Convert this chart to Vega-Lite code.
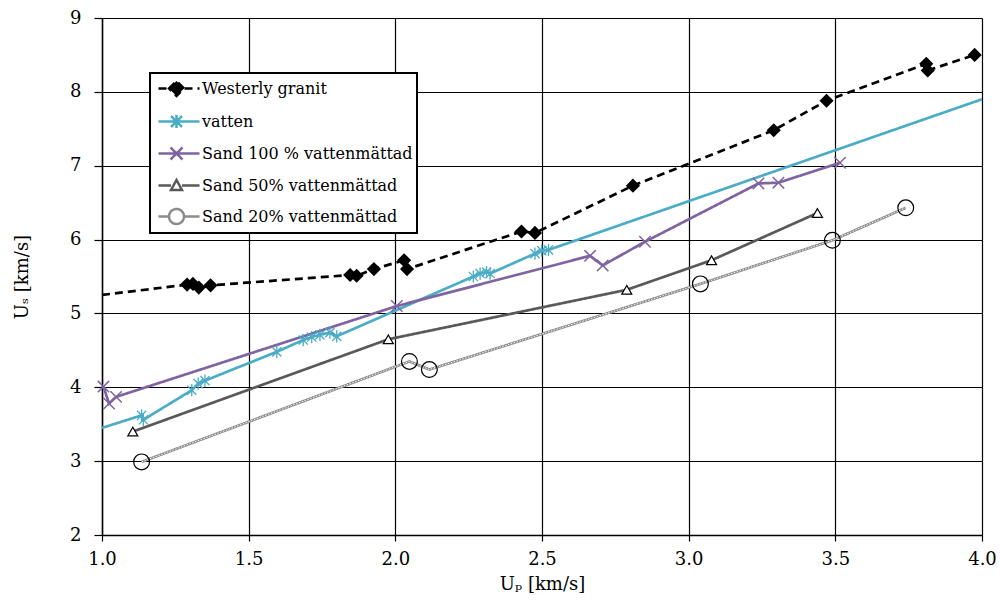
{
  "$schema": "https://vega.github.io/schema/vega-lite/v6.json",
  "width": 880,
  "height": 517,
  "autosize": {"type": "none"},
  "padding": {"left": 102, "top": 18, "right": 18, "bottom": 72},
  "background": "white",
  "config": {
    "font": "DejaVu Serif",
    "view": {"stroke": null},
    "axis": {
      "labelFont": "DejaVu Serif",
      "labelFontSize": 18,
      "labelColor": "black",
      "titleFont": "DejaVu Serif",
      "titleFontSize": 18,
      "titleFontWeight": "normal",
      "titleColor": "black",
      "gridColor": "black",
      "gridWidth": 1.2,
      "gridOpacity": 1,
      "domainColor": "black",
      "domainWidth": 1.5,
      "tickColor": "black",
      "tickWidth": 1.2
    }
  },
  "data": {
    "values": [
      {"s": "Westerly granit", "i": 0, "x": 1.0, "y": 5.25, "m": 0},
      {"s": "Westerly granit", "i": 1, "x": 1.29, "y": 5.39, "m": 1},
      {"s": "Westerly granit", "i": 2, "x": 1.31, "y": 5.40, "m": 1},
      {"s": "Westerly granit", "i": 3, "x": 1.33, "y": 5.35, "m": 1},
      {"s": "Westerly granit", "i": 4, "x": 1.37, "y": 5.38, "m": 1},
      {"s": "Westerly granit", "i": 5, "x": 1.846, "y": 5.52, "m": 1},
      {"s": "Westerly granit", "i": 6, "x": 1.868, "y": 5.51, "m": 1},
      {"s": "Westerly granit", "i": 7, "x": 1.927, "y": 5.60, "m": 1},
      {"s": "Westerly granit", "i": 8, "x": 2.03, "y": 5.72, "m": 1},
      {"s": "Westerly granit", "i": 9, "x": 2.04, "y": 5.60, "m": 1},
      {"s": "Westerly granit", "i": 10, "x": 2.43, "y": 6.11, "m": 1},
      {"s": "Westerly granit", "i": 11, "x": 2.476, "y": 6.09, "m": 1},
      {"s": "Westerly granit", "i": 12, "x": 2.81, "y": 6.73, "m": 1},
      {"s": "Westerly granit", "i": 13, "x": 3.29, "y": 7.48, "m": 1},
      {"s": "Westerly granit", "i": 14, "x": 3.47, "y": 7.88, "m": 1},
      {"s": "Westerly granit", "i": 15, "x": 3.81, "y": 8.38, "m": 1},
      {"s": "Westerly granit", "i": 16, "x": 3.815, "y": 8.29, "m": 1},
      {"s": "Westerly granit", "i": 17, "x": 3.975, "y": 8.50, "m": 1},
      {"s": "vatten", "i": 0, "x": 1.0, "y": 3.45, "m": 0},
      {"s": "vatten", "i": 1, "x": 1.135, "y": 3.62, "m": 1},
      {"s": "vatten", "i": 2, "x": 1.141, "y": 3.56, "m": 1},
      {"s": "vatten", "i": 3, "x": 1.306, "y": 3.96, "m": 1},
      {"s": "vatten", "i": 4, "x": 1.328, "y": 4.05, "m": 1},
      {"s": "vatten", "i": 5, "x": 1.351, "y": 4.09, "m": 1},
      {"s": "vatten", "i": 6, "x": 1.596, "y": 4.48, "m": 1},
      {"s": "vatten", "i": 7, "x": 1.686, "y": 4.64, "m": 1},
      {"s": "vatten", "i": 8, "x": 1.715, "y": 4.68, "m": 1},
      {"s": "vatten", "i": 9, "x": 1.743, "y": 4.71, "m": 1},
      {"s": "vatten", "i": 10, "x": 1.777, "y": 4.74, "m": 1},
      {"s": "vatten", "i": 11, "x": 1.80, "y": 4.69, "m": 1},
      {"s": "vatten", "i": 12, "x": 2.266, "y": 5.50, "m": 1},
      {"s": "vatten", "i": 13, "x": 2.289, "y": 5.54, "m": 1},
      {"s": "vatten", "i": 14, "x": 2.311, "y": 5.56, "m": 1},
      {"s": "vatten", "i": 15, "x": 2.323, "y": 5.54, "m": 1},
      {"s": "vatten", "i": 16, "x": 2.476, "y": 5.81, "m": 1},
      {"s": "vatten", "i": 17, "x": 2.499, "y": 5.85, "m": 1},
      {"s": "vatten", "i": 18, "x": 2.522, "y": 5.86, "m": 1},
      {"s": "vatten", "i": 19, "x": 4.0, "y": 7.90, "m": 0},
      {"s": "Sand 100 % vattenmättad", "i": 0, "x": 1.005, "y": 4.01, "m": 1},
      {"s": "Sand 100 % vattenmättad", "i": 1, "x": 1.024, "y": 3.78, "m": 1},
      {"s": "Sand 100 % vattenmättad", "i": 2, "x": 1.048, "y": 3.87, "m": 1},
      {"s": "Sand 100 % vattenmättad", "i": 3, "x": 2.005, "y": 5.10, "m": 1},
      {"s": "Sand 100 % vattenmättad", "i": 4, "x": 2.664, "y": 5.78, "m": 1},
      {"s": "Sand 100 % vattenmättad", "i": 5, "x": 2.707, "y": 5.65, "m": 1},
      {"s": "Sand 100 % vattenmättad", "i": 6, "x": 2.851, "y": 5.97, "m": 1},
      {"s": "Sand 100 % vattenmättad", "i": 7, "x": 3.238, "y": 6.76, "m": 1},
      {"s": "Sand 100 % vattenmättad", "i": 8, "x": 3.306, "y": 6.77, "m": 1},
      {"s": "Sand 100 % vattenmättad", "i": 9, "x": 3.516, "y": 7.04, "m": 1},
      {"s": "Sand 50% vattenmättad", "i": 0, "x": 1.105, "y": 3.40, "m": 1},
      {"s": "Sand 50% vattenmättad", "i": 1, "x": 1.976, "y": 4.65, "m": 1},
      {"s": "Sand 50% vattenmättad", "i": 2, "x": 2.789, "y": 5.32, "m": 1},
      {"s": "Sand 50% vattenmättad", "i": 3, "x": 3.078, "y": 5.72, "m": 1},
      {"s": "Sand 50% vattenmättad", "i": 4, "x": 3.439, "y": 6.36, "m": 1},
      {"s": "Sand 20% vattenmättad", "i": 0, "x": 1.135, "y": 2.99, "m": 1},
      {"s": "Sand 20% vattenmättad", "i": 1, "x": 2.048, "y": 4.35, "m": 1},
      {"s": "Sand 20% vattenmättad", "i": 2, "x": 2.116, "y": 4.24, "m": 1},
      {"s": "Sand 20% vattenmättad", "i": 3, "x": 3.04, "y": 5.40, "m": 1},
      {"s": "Sand 20% vattenmättad", "i": 4, "x": 3.49, "y": 5.99, "m": 1},
      {"s": "Sand 20% vattenmättad", "i": 5, "x": 3.74, "y": 6.43, "m": 1}
    ]
  },
  "encoding": {
    "x": {
      "field": "x", "type": "quantitative",
      "scale": {"domain": [1, 4], "nice": false, "zero": false},
      "axis": {
        "title": "Uₚ [km/s]",
        "values": [1, 1.5, 2, 2.5, 3, 3.5, 4],
        "format": ".1f",
        "tickSize": 6,
        "labelPadding": 9,
        "titlePadding": 7,
        "labelFlush": false
      }
    },
    "y": {
      "field": "y", "type": "quantitative",
      "scale": {"domain": [2, 9], "nice": false, "zero": false},
      "axis": {
        "title": "Uₛ [km/s]",
        "values": [2, 3, 4, 5, 6, 7, 8, 9],
        "tickSize": 8,
        "labelPadding": 13,
        "titlePadding": 38
      }
    }
  },
  "layer": [
    {
      "mark": {"type": "line", "strokeWidth": 2.7},
      "encoding": {
        "order": {"field": "i", "type": "quantitative"},
        "color": {
          "field": "s", "type": "nominal",
          "scale": {
            "domain": ["Westerly granit", "vatten", "Sand 100 % vattenmättad", "Sand 50% vattenmättad", "Sand 20% vattenmättad"],
            "range": ["black", "#4bacc6", "#8064a2", "#595959", "#8c8c8c"]
          },
          "legend": {
            "title": null,
            "orient": "none",
            "legendX": 48,
            "legendY": 55,
            "strokeColor": "black",
            "fillColor": "white",
            "padding": 4,
            "rowPadding": 9,
            "symbolSize": 400,
            "symbolOffset": 11,
            "symbolStrokeWidth": 2.5,
            "labelOffset": 14,
            "labelFont": "DejaVu Serif",
            "labelFontSize": 16,
            "labelColor": "black",
            "labelLimit": 400,
            "encode": {
              "legend": {"update": {"strokeWidth": {"value": 2}}},
              "symbols": {
                "update": {
                  "shape": {"signal": "datum.value === 'Westerly granit' ? 'M-1.8,0H2.3M-0.75,0L0,-0.75L0.75,0L0,0.75Z' : datum.value === 'vatten' ? 'M-1.8,0H2.3M-0.55,-0.55L0.55,0.55M-0.55,0.55L0.55,-0.55M0,-0.65V0.65' : datum.value === 'Sand 100 % vattenmättad' ? 'M-1.8,0H2.3M-0.6,-0.6L0.6,0.6M-0.6,0.6L0.6,-0.6' : datum.value === 'Sand 50% vattenmättad' ? 'M-1.8,0H-0.55M0.55,0H2.3M-0.55,0.45L0,-0.55L0.55,0.45Z' : 'M-1.8,0H-0.75M0.75,0H2.3M-0.75,0A0.75,0.75,0,1,0,0.75,0A0.75,0.75,0,1,0,-0.75,0'"},
                  "fill": {"signal": "datum.value === 'Westerly granit' ? 'black' : 'transparent'"},
                  "strokeDash": {"signal": "datum.value === 'Westerly granit' ? [6, 4] : []"}
                }
              }
            }
          }
        },
        "strokeDash": {
          "field": "s", "type": "nominal",
          "scale": {
            "domain": ["Westerly granit", "vatten", "Sand 100 % vattenmättad", "Sand 50% vattenmättad", "Sand 20% vattenmättad"],
            "range": [[8, 5], [1, 0], [1, 0], [1, 0], [1, 0]]
          },
          "legend": null
        }
      }
    },
    {
      "transform": [{"filter": "datum.s === 'Sand 20% vattenmättad'"}],
      "mark": {"type": "line", "strokeWidth": 1, "color": "white", "strokeDash": [1.5, 1.5]},
      "encoding": {"order": {"field": "i", "type": "quantitative"}}
    },
    {
      "transform": [{"filter": "datum.s === 'Westerly granit' && datum.m == 1"}],
      "mark": {"type": "point", "shape": "diamond", "filled": true, "color": "black", "size": 200, "opacity": 1}
    },
    {
      "transform": [{"filter": "datum.s === 'vatten' && datum.m == 1"}],
      "mark": {"type": "point", "shape": "M-0.75,-0.75L0.75,0.75M-0.75,0.75L0.75,-0.75M0,-1V1", "filled": false, "stroke": "#4bacc6", "strokeWidth": 1.3, "size": 150, "opacity": 1}
    },
    {
      "transform": [{"filter": "datum.s === 'Sand 100 % vattenmättad' && datum.m == 1"}],
      "mark": {"type": "point", "shape": "M-1,-1L1,1M-1,1L1,-1", "filled": false, "stroke": "#8064a2", "strokeWidth": 1.5, "size": 130, "opacity": 1}
    },
    {
      "transform": [{"filter": "datum.s === 'Sand 50% vattenmättad' && datum.m == 1"}],
      "mark": {"type": "point", "shape": "triangle-up", "filled": true, "fill": "white", "stroke": "black", "strokeWidth": 1.2, "size": 100, "opacity": 1}
    },
    {
      "transform": [{"filter": "datum.s === 'Sand 20% vattenmättad' && datum.m == 1"}],
      "mark": {"type": "point", "shape": "circle", "filled": false, "stroke": "black", "strokeWidth": 1.2, "size": 250, "opacity": 1}
    }
  ]
}
